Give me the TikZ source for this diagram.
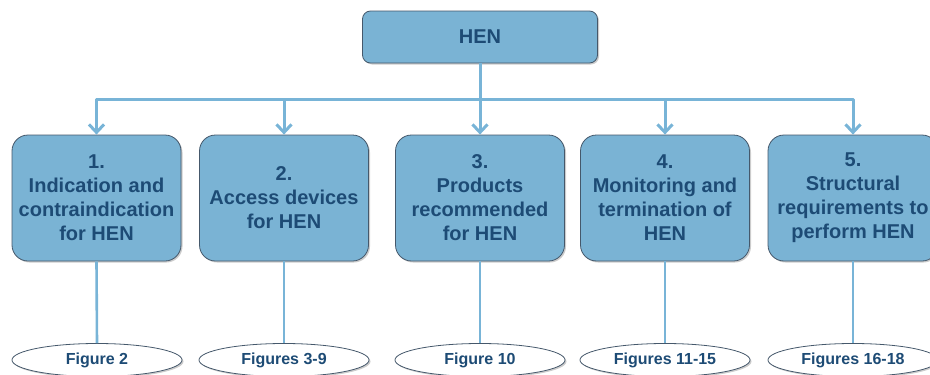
\documentclass[tikz,border=0pt]{standalone}
\usepackage{fontspec}
\setmainfont{Liberation Sans}
\usetikzlibrary{shapes.geometric,shadows,arrows.meta}
\definecolor{boxblue}{HTML}{7AB3D4}
\definecolor{linkblue}{HTML}{78B4D7}
\definecolor{textblue}{HTML}{1D4B75}
\definecolor{edgegray}{HTML}{45586B}
\begin{document}
\begin{tikzpicture}[x=1pt,y=-1pt,line join=round,
	>={Straight Barb[length=8pt,width=15pt]},
	topic/.style={draw=edgegray,line width=0.8pt,fill=boxblue,rounded corners=16pt,
		minimum width=169pt,minimum height=126pt,align=center,text=textblue,
		font=\bfseries\fontsize{20}{24}\selectfont,
		drop shadow={shadow xshift=1.5pt,shadow yshift=-1.5pt,opacity=0.4}},
	figref/.style={ellipse,draw=edgegray,line width=0.8pt,fill=white,inner sep=0pt,
		minimum width=170pt,minimum height=33pt,text=textblue,
		font=\bfseries\fontsize{16}{18}\selectfont,
		drop shadow={shadow xshift=1.5pt,shadow yshift=-1.5pt,opacity=0.4}},
	feed/.style={draw=linkblue,line width=3pt,->},
	link/.style={draw=linkblue,line width=2.6pt}]
	\useasboundingbox (0,0) rectangle (930,375);
	\node[topic,rounded corners=8pt,minimum width=235pt,minimum height=52pt] (hen) at (480,37) {HEN};
	\node[topic] (box1) at (96.5,198) {1.\\Indication and\\contraindication\\for HEN};
	\node[topic] (box2) at (284,198) {2.\\Access devices\\for HEN};
	\node[topic] (box3) at (480,198) {3.\\Products\\recommended\\for HEN};
	\node[topic] (box4) at (665,198) {4.\\Monitoring and\\termination of\\HEN};
	\node[topic,minimum width=170pt] (box5) at (853,198) {5.\\Structural\\requirements to\\perform HEN};
	\node[figref] (fig1) at (97,360) {Figure 2};
	\node[figref] (fig2) at (284,360) {Figures 3-9};
	\node[figref] (fig3) at (480,360) {Figure 10};
	\node[figref] (fig4) at (665,360) {Figures 11-15};
	\node[figref] (fig5) at (853,360) {Figures 16-18};
	\path (hen.south) ++(0,36) coordinate (fork);
	\draw[link,line width=3pt] (hen.south) -- (fork);
	\foreach \i in {1,...,5}{
		\draw[feed] (fork) -| (box\i.north);
		\draw[link] (box\i.south) -- (fig\i.north);
	}
\end{tikzpicture}
\end{document}
